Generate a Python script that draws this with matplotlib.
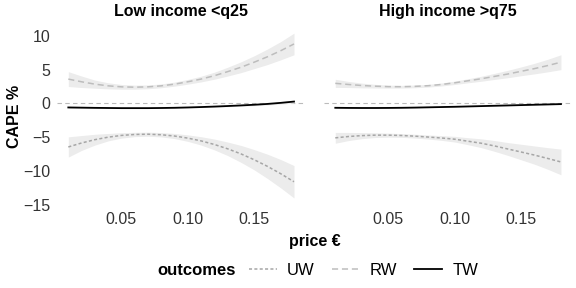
import numpy as np
import matplotlib.pyplot as plt

plt.rcParams['font.family'] = ['Liberation Sans', 'DejaVu Sans']

price = [0.01, 0.02, 0.03, 0.04, 0.05, 0.06, 0.07, 0.08, 0.09,
         0.10, 0.11, 0.12, 0.13, 0.14, 0.15, 0.16, 0.17, 0.18]

panels = ['Low income <q25', 'High income >q75']

# low income
low_uw = [-6.45, -5.86, -5.37, -5.0, -4.74, -4.6, -4.56, -4.64, -4.83,
          -5.14, -5.55, -6.08, -6.72, -7.47, -8.34, -9.32, -10.41, -11.6]
low_uw_se = [1.5, 1.1, 0.8, 0.55, 0.4, 0.32, 0.3, 0.32, 0.38,
             0.48, 0.62, 0.8, 1.0, 1.25, 1.5, 1.8, 2.1, 2.4]
low_rw = [3.6, 3.2, 2.85, 2.6, 2.45, 2.4, 2.45, 2.6, 2.85,
          3.2, 3.6, 4.1, 4.7, 5.35, 6.1, 6.9, 7.8, 8.8]
low_rw_se = [1.1, 0.85, 0.6, 0.45, 0.35, 0.3, 0.28, 0.28, 0.3,
             0.35, 0.42, 0.52, 0.65, 0.8, 0.95, 1.15, 1.35, 1.6]
low_tw = [-0.6, -0.63, -0.66, -0.68, -0.7, -0.7, -0.7, -0.68, -0.65,
          -0.6, -0.54, -0.47, -0.39, -0.3, -0.2, -0.08, 0.08, 0.27]
low_tw_se = [0.15, 0.12, 0.1, 0.08, 0.07, 0.06, 0.06, 0.06, 0.06,
             0.07, 0.08, 0.09, 0.1, 0.12, 0.14, 0.16, 0.18, 0.2]

# high income
high_uw = [-5.1, -4.9, -4.77, -4.7, -4.7, -4.75, -4.85, -4.98, -5.12,
           -5.3, -5.6, -5.9, -6.3, -6.75, -7.2, -7.65, -8.15, -8.67]
high_uw_se = [0.8, 0.6, 0.45, 0.35, 0.3, 0.28, 0.28, 0.3, 0.35,
              0.42, 0.52, 0.65, 0.8, 0.95, 1.15, 1.35, 1.6, 1.9]
high_rw = [2.97, 2.8, 2.65, 2.55, 2.48, 2.47, 2.52, 2.62, 2.8,
           3.05, 3.35, 3.65, 4.0, 4.35, 4.75, 5.15, 5.6, 6.1]
high_rw_se = [0.6, 0.45, 0.35, 0.27, 0.22, 0.2, 0.2, 0.2, 0.22,
              0.25, 0.3, 0.37, 0.45, 0.55, 0.65, 0.78, 0.93, 1.1]
high_tw = [-0.65, -0.67, -0.68, -0.68, -0.67, -0.65, -0.62, -0.58, -0.54,
           -0.5, -0.45, -0.4, -0.35, -0.3, -0.25, -0.2, -0.15, -0.1]
high_tw_se = [0.1, 0.08, 0.07, 0.06, 0.05, 0.05, 0.05, 0.05, 0.05,
              0.05, 0.05, 0.06, 0.06, 0.07, 0.08, 0.09, 0.1, 0.12]

data = [
    [(low_uw, low_uw_se), (low_rw, low_rw_se), (low_tw, low_tw_se)],
    [(high_uw, high_uw_se), (high_rw, high_rw_se), (high_tw, high_tw_se)],
]

outcomes = ['UW', 'RW', 'TW']
yticks = [10, 5, 0, -5, -10, -15]
xticks = [0.05, 0.10, 0.15]

line_col = ['#a6a6a6', '#bdbdbd', '#000000']
line_sty = [(0, (2, 1.5)), (0, (4, 2.5)), '-']
line_w = [1.1, 1.1, 1.3]

fig = plt.figure(figsize=(5.76, 2.88), dpi=100)
axes = [fig.add_axes([0.099, 0.288, 0.431, 0.618]),
        fig.add_axes([0.5625, 0.288, 0.431, 0.618])]

x = np.array(price)
for i, ax in enumerate(axes):
    ax.axhline(0, color='#bbbbbb', lw=0.8, ls=(0, (4, 3)), zorder=1)
    for vals, se in data[i]:
        v = np.array(vals)
        s = np.array(se)
        ax.fill_between(x, v - s, v + s, color='#ececec', lw=0, zorder=2)
    for j, (vals, se) in enumerate(data[i]):
        ax.plot(x, vals, color=line_col[j], ls=line_sty[j], lw=line_w[j],
                label=outcomes[j], zorder=3)
    ax.set_xlim(0.0015, 0.1885)
    ax.set_ylim(-15.05, 11.3)
    ax.set_xticks(xticks)
    ax.set_xticklabels(['%.2f' % t for t in xticks])
    ax.set_yticks(yticks)
    ax.tick_params(length=0, labelsize=11.5, colors='#333333', pad=5)
    for sp in ax.spines.values():
        sp.set_visible(False)
    ax.set_title(panels[i], fontsize=11.5, fontweight='bold', pad=8)
    if i == 1:
        ax.set_yticklabels([])
    else:
        ax.set_yticklabels([str(t).replace('-', '\u2212') for t in yticks])

axes[0].set_ylabel('CAPE %', fontsize=11.5, fontweight='bold')
axes[0].yaxis.set_label_coords(-0.142, 0.5)
fig.text(0.547, 0.163, 'price \u20ac', fontsize=11.5, fontweight='bold',
         ha='center', va='center')

fig.text(0.274, 0.062, 'outcomes', fontsize=12, fontweight='bold',
         ha='left', va='center')
handles, labels = axes[0].get_legend_handles_labels()
fig.legend(handles, labels, ncol=3, loc='center left',
           bbox_to_anchor=(0.432, 0.062), frameon=False, fontsize=12,
           handlelength=1.7, handletextpad=0.6, columnspacing=1.0,
           borderaxespad=0, borderpad=0)

fig.savefig('out.png', dpi=100)
